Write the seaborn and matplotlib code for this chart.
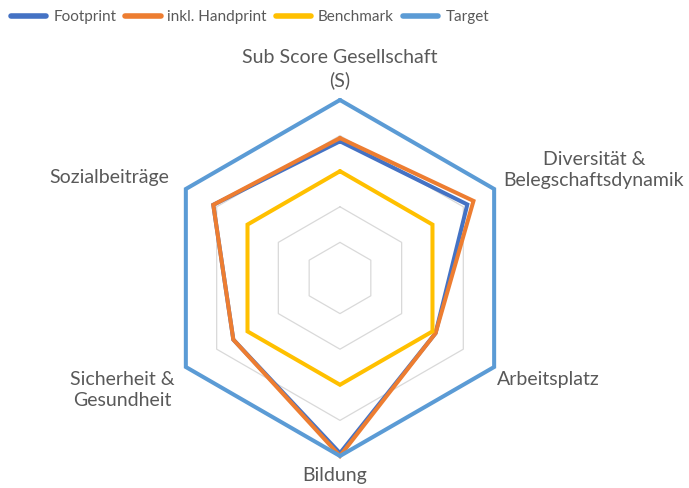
import numpy as np
import pandas as pd
import seaborn as sns
import matplotlib.pyplot as plt
from matplotlib.lines import Line2D

categories = ["Sub Score Gesellschaft\n(S)", "Diversität &\nBelegschaftsdynamik", "Arbeitsplatz",
              "Bildung", "Sicherheit &\nGesundheit", "Sozialbeiträge"]
footprint = [3.84, 4.13, 3.1, 4.92, 3.46, 4.11]
handprint = [3.93, 4.33, 3.1, 5.0, 3.46, 4.11]
benchmark = [3.0, 3.0, 3.0, 3.0, 3.0, 3.0]
target = [5.0, 5.0, 5.0, 5.0, 5.0, 5.0]
series_names = ["Footprint", "inkl. Handprint", "Benchmark", "Target"]
grid_levels = [1, 2, 3, 4]

colors = {"Footprint": "#4472C4", "inkl. Handprint": "#ED7D31",
          "Benchmark": "#FFC000", "Target": "#5B9BD5"}
text_color = "#595959"

sns.set_style("white")
plt.rcParams['font.family'] = ['Lato', 'DejaVu Sans']

n = len(categories)
angles = np.linspace(0, 2 * np.pi, n, endpoint=False)
closed = np.append(angles, angles[0])

rows = []
for name, vals in zip(series_names, [footprint, handprint, benchmark, target]):
    vals = list(vals) + [vals[0]]
    for t, v in zip(closed, vals):
        rows.append({"theta": t, "value": v, "series": name})
df = pd.DataFrame(rows)

fig = plt.figure(figsize=(6.89, 4.88), dpi=100)
ax = fig.add_axes([0.2351, 0.0656, 0.5167, 0.7295], projection="polar")
ax.set_theta_zero_location("N")
ax.set_theta_direction(-1)

# hexagonal gridlines
for lvl in grid_levels:
    ax.plot(closed, [lvl] * len(closed), color="#d9d9d9", lw=0.9, zorder=1)

sns.lineplot(data=df, x="theta", y="value", hue="series", hue_order=series_names,
             palette=colors, sort=False, estimator=None, lw=2.9, ax=ax,
             solid_joinstyle="miter", clip_on=False, zorder=3)

ax.set_ylim(0, 5)
ax.grid(False)
ax.spines["polar"].set_visible(False)
ax.set_xticks([])
ax.set_yticks([])
ax.set_xlabel("")
ax.set_ylabel("")

# category labels
fs = 14
ls = 1.34
fig.text(340 / 689, 1 - 69 / 488, categories[0], ha="center", va="center",
         fontsize=fs, color=text_color, linespacing=ls)
fig.text(594 / 689, 1 - 170 / 488, categories[1], ha="center", va="center",
         fontsize=fs, color=text_color, linespacing=ls)
fig.text(497 / 689, 1 - 380 / 488, categories[2], ha="left", va="center",
         fontsize=fs, color=text_color)
fig.text(335 / 689, 1 - 475 / 488, categories[3], ha="center", va="center",
         fontsize=fs, color=text_color)
fig.text(122 / 689, 1 - 390 / 488, categories[4], ha="center", va="center",
         fontsize=fs, color=text_color, linespacing=ls)
fig.text(169 / 689, 1 - 178 / 488, categories[5], ha="right", va="center",
         fontsize=fs, color=text_color)

handles = [Line2D([0], [0], color=colors[s], lw=4) for s in series_names]
ax.legend(handles, series_names, loc="center left", bbox_to_anchor=(-1 / 689, 1 - 17 / 488),
          bbox_transform=fig.transFigure, ncol=4, frameon=False, fontsize=11,
          labelcolor=text_color, handlelength=2.3, handletextpad=0.45, columnspacing=0.6,
          borderpad=0.3)

fig.savefig("out.png", dpi=100)
